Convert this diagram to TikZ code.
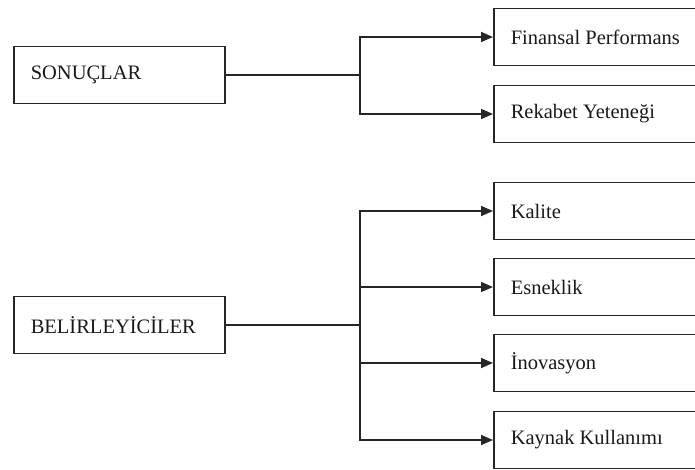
\documentclass[tikz,border=0pt]{standalone}
\usepackage{fontspec}
\setmainfont{Liberation Serif}
\usetikzlibrary{arrows.meta}
\begin{document}
\begin{tikzpicture}[x=1pt,y=-1pt,
  box/.style={draw=black!85, line width=1.5pt, rectangle, anchor=west,
    inner xsep=17pt, inner ysep=0pt, minimum height=57pt,
    font=\fontsize{20.5}{24}\selectfont, text=black!90, align=flush left},
  leftbox/.style={box, text width=177pt},
  rightbox/.style={box, text width=220pt},
  link/.style={draw=black!85, line width=1.6pt},
  arr/.style={link, -{Triangle[length=12pt,width=10pt]}}]
\useasboundingbox (0,0) rectangle (695,470);
\clip (0,0) rectangle (695,470);

% left-hand boxes
\node[leftbox] (son) at (13,75) {SONUÇLAR};
\node[leftbox] (bel) at (13,325) {BELİRLEYİCİLER};

% right-hand boxes
\node[rightbox] (fin) at (493,37)  {Finansal Performans};
\node[rightbox] (rek) at (493,114) {Rekabet Yeteneği};
\node[rightbox] (kal) at (493,211) {Kalite};
\node[rightbox] (esn) at (493,287) {Esneklik};
\node[rightbox] (ino) at (493,363) {İnovasyon};
\node[rightbox] (kay) at (493,440) {Kaynak Kullanımı};

% branch points
\coordinate (j1) at (360,75);
\coordinate (j2) at (360,325);

% upper group
\draw[link] (son.east) -- (j1);
\draw[arr] (j1) |- (fin.west);
\draw[arr] (j1) |- (rek.west);

% lower group
\draw[link, line width=2.2pt] (bel.east) -- (j2);
\draw[arr] (j2) |- (kal.west);
\draw[arr] (j2) |- (esn.west);
\draw[arr] (j2) |- (ino.west);
\draw[arr] (j2) |- (kay.west);
\end{tikzpicture}
\end{document}
